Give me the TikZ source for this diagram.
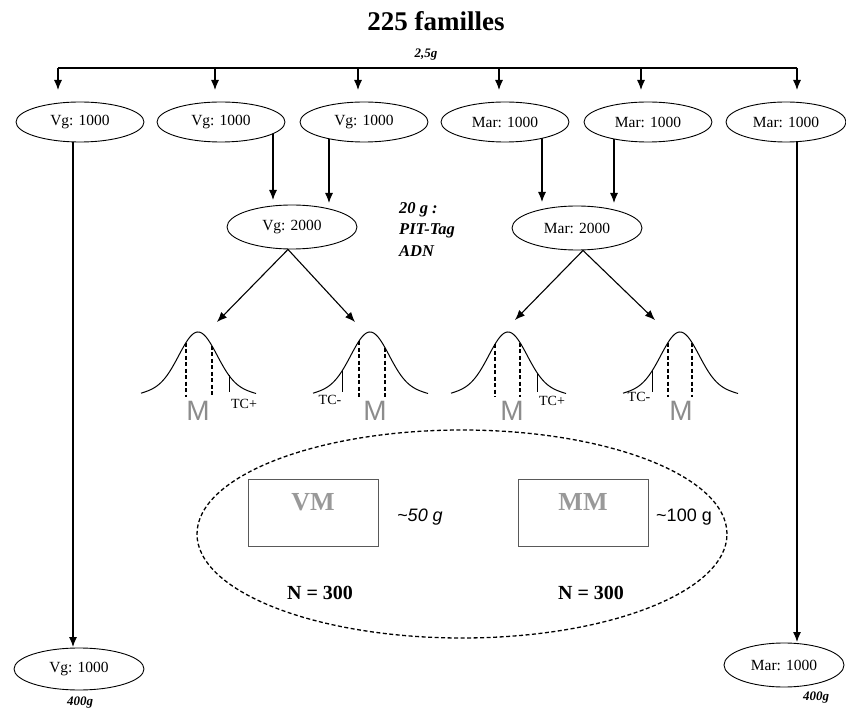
\documentclass[tikz,border=0pt]{standalone}
\usepackage{fontspec}
\setmainfont{Liberation Serif}
\setsansfont{Liberation Sans}
\usetikzlibrary{shapes.geometric,arrows.meta,backgrounds}
\begin{document}
\begin{tikzpicture}[x=1pt,y=-1pt,
  declare function={bely(\t)=391-59*exp(-(\t/27)^2)+2.5*(\t/55)^4;},
  ell/.style={ellipse,draw,line width=0.9pt,fill=white,minimum width=128pt,minimum height=40pt,inner sep=0pt,font=\fontsize{15.5}{17}\selectfont},
  arr/.style={line width=1.1pt,-{Latex[length=10pt,width=8pt]}},
  ln/.style={line width=1pt},
  dln/.style={line width=1.4pt,dash pattern=on 4pt off 2.5pt},
  tcln/.style={line width=0.7pt},
  mlab/.style={font=\sffamily\fontsize{28}{30}\selectfont,text=black!45,inner sep=0pt},
  tclab/.style={font=\fontsize{14}{16}\selectfont,inner sep=0pt},
  bi/.style={font=\bfseries\itshape\fontsize{13}{15}\selectfont,inner sep=0pt},
  box/.style={rectangle,draw=black!65,line width=1pt,minimum width=130pt,minimum height=67pt,inner sep=0pt},
  boxtext/.style={font=\bfseries\fontsize{26}{28}\selectfont,text=black!40,inner sep=0pt},
  nlab/.style={font=\bfseries\fontsize{20}{22}\selectfont,inner sep=0pt},
  glab/.style={font=\sffamily\fontsize{18}{20}\selectfont,inner sep=0pt}
]
\useasboundingbox (0,0) rectangle (846,708);

% title
\node[font=\bfseries\fontsize{27}{30}\selectfont,inner sep=0pt] (title) at (436,21) {225 familles};
\node[bi] (g25) at (426,55) {2,5g};

% top ellipses
\node[ell] (e1) at (80,122) {Vg: 1000};
\node[ell] (e2) at (221,122) {Vg: 1000};
\node[ell] (e3) at (364,122) {Vg: 1000};
\node[ell] (e4) at (505,122) {Mar: 1000};
\node[ell] (e5) at (648,122) {Mar: 1000};
\node[ell,minimum width=120pt] (e6) at (786,122) {Mar: 1000};

% middle ellipses
\node[ell,minimum width=130pt,minimum height=44pt] (v2k) at (292,227) {Vg: 2000};
\node[ell,minimum width=130pt,minimum height=44pt] (m2k) at (577,228) {Mar: 2000};

% bottom ellipses
\node[ell,minimum width=130pt,minimum height=42pt] (vb) at (79,669) {Vg: 1000};
\node[ell,minimum width=120pt,minimum height=44pt] (mb) at (784,665) {Mar: 1000};
\node[bi] (w1) at (80,703) {400g};
\node[bi] (w2) at (816,698) {400g};

% 20 g note
\node[bi,font=\bfseries\itshape\fontsize{16.5}{21.5}\selectfont,align=left,anchor=north west] (note) at (399,202) {20 g :\\PIT-Tag\\ADN};

% coordinates
\foreach \n/\x in {1/58,2/215,3/358,4/499,5/641,6/797}{
  \coordinate (b\n) at (\x,68);
  \coordinate (t\n) at (\x,90);
}
\coordinate (s1) at (73,122);
\coordinate (d1) at (73,647);
\coordinate (s6) at (797,122);
\coordinate (d6) at (797,642);
\coordinate (s2) at (273,122);
\coordinate (d2) at (273,200);
\coordinate (s3) at (329,122);
\coordinate (d3) at (329,203);
\coordinate (s4) at (542,122);
\coordinate (d4) at (542,202);
\coordinate (s5) at (614,122);
\coordinate (d5) at (614,203);
\coordinate (a1) at (217,322);
\coordinate (a2) at (355,322);
\coordinate (a3) at (515,320);
\coordinate (a4) at (655,320);

\begin{scope}[on background layer]
  \draw[line width=1.5pt] (b1) -- (b6);
  \foreach \n in {1,...,6}{ \draw[arr] (b\n) -- (t\n); }
  \draw[arr] (s1) -- (d1);
  \draw[arr] (s6) -- (d6);
  \draw[arr] (s2) -- (d2);
  \draw[arr] (s3) -- (d3);
  \draw[arr] (s4) -- (d4);
  \draw[arr] (s5) -- (d5);
\end{scope}
\draw[arr] ([xshift=-4pt]v2k.south) -- (a1);
\draw[arr] ([xshift=-4pt]v2k.south) -- (a2);
\draw[arr] ([xshift=6pt]m2k.south) -- (a3);
\draw[arr] ([xshift=6pt]m2k.south) -- (a4);

% bell curves
\foreach \c/\dl/\dr/\tc/\lab/\lx/\ly/\mx in {198/-12/14/31/TC+/244/404/198, 370/-11/15/-28/TC-/330/400/375, 508/-13/12/29/TC+/552/401/512, 680/-12/12/-28/TC-/639/397/681}{
  \draw[ln] plot[domain=-57:58,samples=80,smooth] ({\c+\x},{bely(\x)});
  \draw[dln] ({\c+\dl},{bely(\dl)}) -- ({\c+\dl},397);
  \draw[dln] ({\c+\dr},{bely(\dr)}) -- ({\c+\dr},397);
  \draw[tcln] ({\c+\tc},{bely(\tc)}) -- ({\c+\tc},392);
  \node[tclab] at (\lx,\ly) {\lab};
  \node[mlab] at (\mx,411) {M};
}

% dashed ellipse region
\draw[dln,line width=1.3pt] (462,534) ellipse [x radius=265pt, y radius=104pt];
\node[box] (vm) at (313,513) {};
\node[boxtext] (vmt) at ([yshift=11pt]vm.center) {VM};
\node[box] (mm) at (583,513) {};
\node[boxtext] (mmt) at ([yshift=11pt]mm.center) {MM};
\node[glab,font=\sffamily\itshape\fontsize{18}{20}\selectfont] (g50) at (420,517) {\textasciitilde50 g};
\node[glab] (g100) at (684,517) {\textasciitilde100 g};
\node[nlab] (n1) at (320,593) {N = 300};
\node[nlab] (n2) at (591,593) {N = 300};
\end{tikzpicture}
\end{document}
